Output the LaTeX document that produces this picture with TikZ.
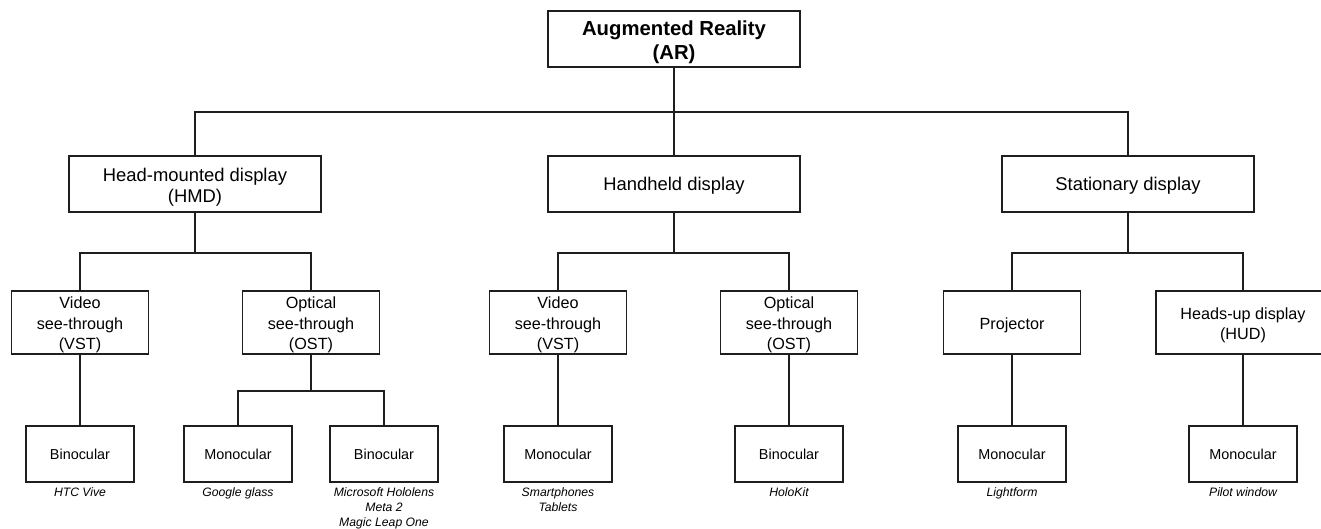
\documentclass[tikz,border=0pt]{standalone}
\usepackage{fontspec}
\setmainfont{Liberation Sans}
\usepackage{tikz}
\usetikzlibrary{positioning}
\definecolor{linegray}{RGB}{30,30,30}

\tikzset{
    box/.style={draw=linegray, line width=1.7pt, align=center, inner sep=0pt, text depth=0pt},
    rootbox/.style={box, minimum width=252pt, minimum height=56pt, text height=42pt, font=\fontsize{20.3}{24.5}\selectfont\bfseries},
    topbox/.style={box, minimum width=252pt, minimum height=56pt, text height=13.2pt, font=\fontsize{18.4}{21.5}\selectfont},
    midbox/.style={box, minimum width=137pt, minimum height=63pt, text height=54.6pt, font=\fontsize{16.2}{20.5}\selectfont},
    leafbox/.style={box, minimum width=108pt, minimum height=56pt, text height=10.3pt, font=\fontsize{14.4}{17}\selectfont},
    example/.style={align=center, inner sep=0pt, font=\fontsize{12.2}{15}\selectfont\itshape},
    link/.style={draw=linegray, line width=1.7pt}
}

\begin{document}
\begin{tikzpicture}[x=1pt, y=-1pt]
    \useasboundingbox (0,0) rectangle (1321,529);
    \clip (0,0) rectangle (1321,529);

    % Root
    \node[rootbox] (ar) at (674,39) {Augmented Reality\\(AR)};

    % Display types
    \node[topbox, text height=37.7pt] (hmd) at (195,184) {Head-mounted display\\(HMD)};
    \node[topbox] (hh) at (674,184) {Handheld display};
    \node[topbox] (st) at (1128,184) {Stationary display};

    % See-through / projection types
    \node[midbox] (hvst) at (80,322.5) {Video\\see-through\\(VST)};
    \node[midbox] (host) at (311,322.5) {Optical\\see-through\\(OST)};
    \node[midbox] (pvst) at (558,322.5) {Video\\see-through\\(VST)};
    \node[midbox] (post) at (789,322.5) {Optical\\see-through\\(OST)};
    \node[midbox, text height=13pt] (proj) at (1012,322.5) {Projector};
    \node[midbox, text height=34.1pt, minimum width=174pt] (hud) at (1243,322.5) {Heads-up display\\(HUD)};

    % Ocular types
    \node[leafbox] (hbin) at (80,454) {Binocular};
    \node[leafbox] (hmono) at (238,454) {Monocular};
    \node[leafbox] (hbin2) at (384,454) {Binocular};
    \node[leafbox] (pmono) at (558,454) {Monocular};
    \node[leafbox] (pbin) at (789,454) {Binocular};
    \node[leafbox] (smono) at (1012,454) {Monocular};
    \node[leafbox] (smono2) at (1243,454) {Monocular};

    % Examples
    \node[example, below=5pt of hbin] (exvive) {HTC Vive};
    \node[example, below=5pt of hmono] (exglass) {Google glass};
    \node[example, below=5pt of hbin2] (exholo) {Microsoft Hololens\\Meta 2\\Magic Leap One};
    \node[example, below=5pt of pmono] (exphone) {Smartphones\\Tablets};
    \node[example, below=5pt of pbin] (exkit) {HoloKit};
    \node[example, below=5pt of smono] (exlight) {Lightform};
    \node[example, below=5pt of smono2] (expilot) {Pilot window};

    % Connectors
    \coordinate (j0) at (674,112);
    \draw[link] (ar.south) -- (hh.north);
    \draw[link] (hmd.north) |- (j0) -| (st.north);

    \draw[link] (hmd.south) -- ++(0,40) coordinate (j1);
    \draw[link] (hvst.north) |- (j1) -| (host.north);
    \draw[link] (hh.south) -- ++(0,40) coordinate (j2);
    \draw[link] (pvst.north) |- (j2) -| (post.north);
    \draw[link] (st.south) -- ++(0,40) coordinate (j3);
    \draw[link] (proj.north) |- (j3) -| (hud.north);

    \draw[link] (hvst.south) -- (hbin.north);
    \draw[link] (host.south) -- ++(0,36) coordinate (j4);
    \draw[link] (hmono.north) |- (j4) -| (hbin2.north);
    \draw[link] (pvst.south) -- (pmono.north);
    \draw[link] (post.south) -- (pbin.north);
    \draw[link] (proj.south) -- (smono.north);
    \draw[link] (hud.south) -- (smono2.north);

\end{tikzpicture}
\end{document}
